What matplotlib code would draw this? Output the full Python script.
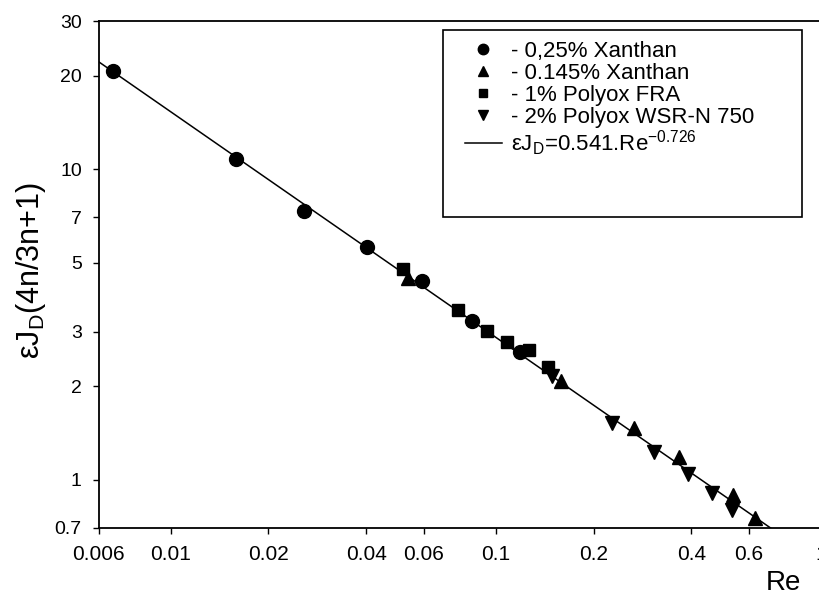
import numpy as np
import matplotlib
matplotlib.use("Agg")
import matplotlib.pyplot as plt
from matplotlib.patches import Rectangle
from matplotlib.ticker import FixedLocator, FixedFormatter, NullLocator

plt.rcParams['font.family'] = ['Liberation Sans', 'DejaVu Sans']
plt.rcParams['mathtext.fontset'] = 'custom'
plt.rcParams['mathtext.rm'] = 'Liberation Sans'
plt.rcParams['mathtext.it'] = 'Liberation Sans:italic'

# measured points, Re vs eps*J_D*(4n/3n+1)
xan025_re = [0.00666, 0.01588, 0.02577, 0.04027, 0.05918, 0.0847, 0.1188]
xan025_j = [20.75, 10.75, 7.32, 5.60, 4.38, 3.24, 2.575]

xan0145_re = [0.05383, 0.1588, 0.2665, 0.3664, 0.5359, 0.628]
xan0145_j = [4.47, 2.075, 1.468, 1.189, 0.895, 0.756]

fra_re = [0.05173, 0.0764, 0.0942, 0.1086, 0.1269, 0.1452]
fra_j = [4.78, 3.51, 3.01, 2.78, 2.61, 2.31]

wsr_re = [0.1487, 0.2285, 0.3069, 0.3914, 0.4640, 0.5325]
wsr_j = [2.165, 1.519, 1.225, 1.043, 0.906, 0.798]

# correlation eps*J_D = 0.541 Re^-0.726
fit_a = 0.541
fit_b = -0.726

xticks = [0.006, 0.01, 0.02, 0.04, 0.06, 0.1, 0.2, 0.4, 0.6, 1]
xticklabels = ['0.006', '0.01', '0.02', '0.04', '0.06', '0.1', '0.2', '0.4', '0.6', '1']
yticks = [0.7, 1, 2, 3, 5, 7, 10, 20, 30]
yticklabels = ['0.7', '1', '2', '3', '5', '7', '10', '20', '30']

W, H = 819, 600
fig = plt.figure(figsize=(W / 100, H / 100), dpi=100)
ax = fig.add_axes([98.5 / W, 72 / H, 722.2 / W, 507 / H])
ax.set_xscale('log')
ax.set_yscale('log')
ax.set_xlim(0.006, 1)
ax.set_ylim(0.7, 30)

re_line = np.logspace(np.log10(0.006), 0, 200)
fit_line, = ax.plot(re_line, fit_a * re_line ** fit_b, color='black', lw=1.1,
                    label=r'εJ$_\mathregular{D}$=0.541.Re$^\mathregular{-0.726}$')

h1, = ax.plot(xan025_re, xan025_j, 'o', color='black', ms=10, ls='none',
              label='- 0,25% Xanthan')
h2, = ax.plot(xan0145_re, xan0145_j, '^', color='black', ms=10, ls='none',
              label='- 0.145% Xanthan')
h3, = ax.plot(fra_re, fra_j, 's', color='black', ms=8.5, ls='none',
              label='- 1% Polyox FRA')
h4, = ax.plot(wsr_re, wsr_j, 'v', color='black', ms=10, ls='none',
              label='- 2% Polyox WSR-N 750')

for s in ['left', 'bottom', 'top']:
    ax.spines[s].set_linewidth(1.3)
ax.spines['right'].set_visible(False)

ax.xaxis.set_major_locator(FixedLocator(xticks))
ax.xaxis.set_major_formatter(FixedFormatter(xticklabels))
ax.xaxis.set_minor_locator(NullLocator())
ax.yaxis.set_major_locator(FixedLocator(yticks))
ax.yaxis.set_major_formatter(FixedFormatter(yticklabels))
ax.yaxis.set_minor_locator(NullLocator())
ax.tick_params(axis='both', direction='out', length=4, width=1, colors='black')
ax.tick_params(axis='x', pad=8, labelsize=15)
ax.tick_params(axis='y', pad=8, labelsize=14)

fig.text(31 / W, 1 - 270 / H, r'εJ$_\mathregular{D}$(4n/3n+1)', rotation=90,
         ha='center', va='center', fontsize=22)
fig.text(783 / W, 1 - 583 / H, 'Re', ha='center', va='center', fontsize=20)

leg = ax.legend(handles=[h1, h2, h3, h4, fit_line], loc='upper left',
                bbox_to_anchor=(465 / W, 1 - 41 / H), bbox_transform=fig.transFigure,
                frameon=False, fontsize=16, markerscale=0.75, handlelength=1.65,
                handletextpad=0.4, labelspacing=0.04, borderpad=0, borderaxespad=0)
fig.add_artist(Rectangle((443 / W, 1 - 217 / H), 359 / W, 187 / H,
                         transform=fig.transFigure, fill=False, lw=1.2,
                         edgecolor='black'))

fig.savefig('out.png', dpi=100)
